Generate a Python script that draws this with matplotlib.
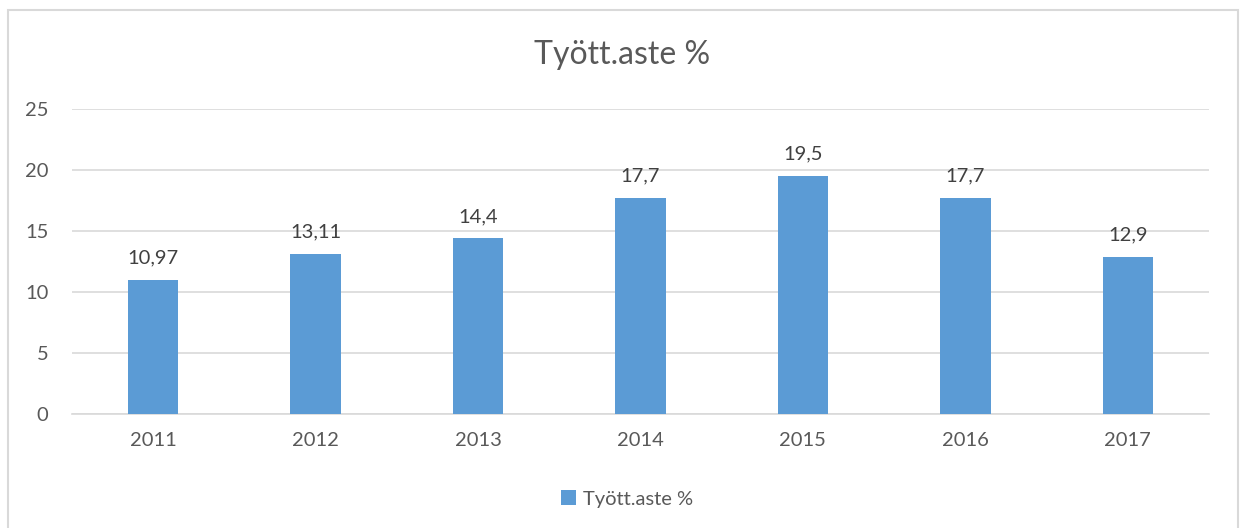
import matplotlib.pyplot as plt
from matplotlib.patches import Rectangle

plt.rcParams['font.family'] = ['Lato', 'DejaVu Sans']

years = ['2011', '2012', '2013', '2014', '2015', '2016', '2017']
values = [10.97, 13.11, 14.4, 17.7, 19.5, 17.7, 12.9]
labels = ['10,97', '13,11', '14,4', '17,7', '19,5', '17,7', '12,9']
series_name = 'Tyött.aste %'

W, H = 1243, 528
fig = plt.figure(figsize=(W / 100, H / 100), dpi=100)

# chart border (bottom runs off the image)
fig.patches.append(Rectangle((8 / W, -0.02), (1238 - 8) / W, 1 - 10 / H + 0.02,
                             transform=fig.transFigure, fill=False,
                             edgecolor='#D9D9D9', linewidth=1.5))

ax = fig.add_axes([72 / W, 1 - 414 / H, (1209 - 72) / W, (414 - 109) / H])
x = range(len(years))
bars = ax.bar(x, values, width=0.31, color='#5B9BD5', label=series_name, zorder=3)

for xi, v, lab in zip(x, values, labels):
    ax.text(xi, v + 1.1, lab, ha='center', va='bottom', fontsize=14.5, color='#404040')

ax.set_xlim(-0.5, len(years) - 0.5)
ax.set_ylim(0, 25)
ax.set_yticks([0, 5, 10, 15, 20, 25])
ax.set_xticks(list(x))
ax.set_xticklabels(years)
ax.yaxis.grid(True, color='#D9D9D9', linewidth=1.2, zorder=0)
ax.tick_params(axis='both', length=0, labelsize=14.5, labelcolor='#595959')
ax.tick_params(axis='x', pad=13)
ax.tick_params(axis='y', pad=17)
for s in ['top', 'right', 'left']:
    ax.spines[s].set_visible(False)
ax.spines['bottom'].set_color('#D9D9D9')
ax.spines['bottom'].set_linewidth(1.2)

fig.text(622 / W, 1 - 55 / H, 'Tyött.aste %', ha='center', va='center',
         fontsize=23, color='#595959')

leg = fig.legend(handles=[bars], labels=[series_name], loc='center',
                 bbox_to_anchor=(627 / W, 1 - 499 / H), frameon=False,
                 fontsize=14.5, handlelength=0.75, handleheight=0.75,
                 handletextpad=0.3)
for t in leg.get_texts():
    t.set_color('#595959')

fig.savefig('out.png', dpi=100)
